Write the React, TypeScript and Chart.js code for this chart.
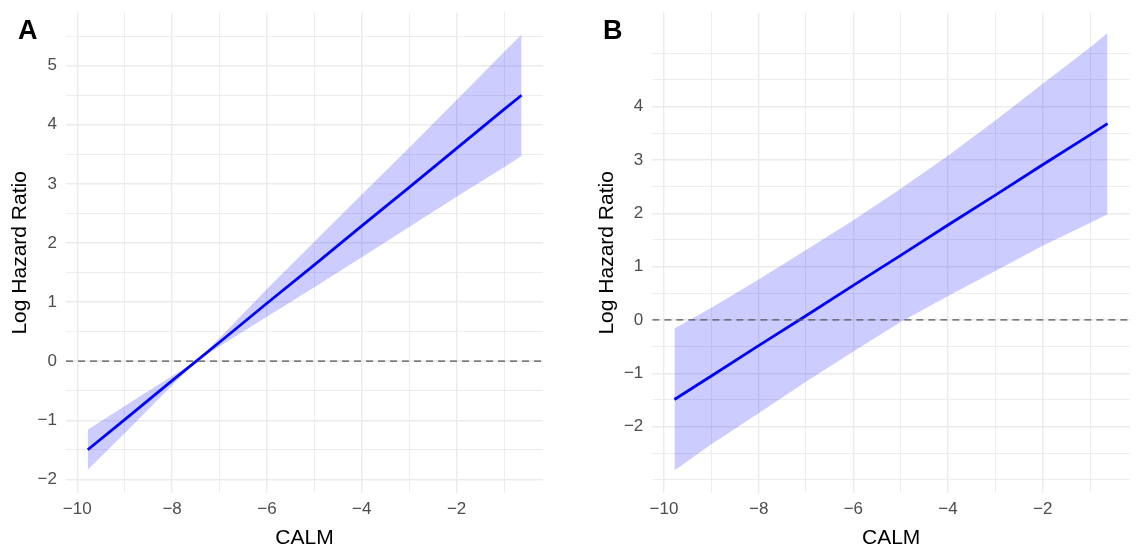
import React, { useEffect, useRef } from "react";
import { Chart, registerables } from "chart.js";

Chart.register(...registerables);

// ---- Panel A data ----
const calmA = [-9.78, -9, -8, -7.49, -7, -6, -5, -4, -3, -2, -1, -0.63];
const fitA = [-1.5, -0.99, -0.33, 0, 0.32, 0.98, 1.63, 2.29, 2.94, 3.6, 4.26, 4.5];
const upperA = [-1.16, -0.76, -0.25, 0, 0.39, 1.22, 2.02, 2.82, 3.61, 4.42, 5.23, 5.53];
const lowerA = [-1.84, -1.22, -0.41, 0, 0.25, 0.75, 1.25, 1.76, 2.27, 2.78, 3.28, 3.47];

// ---- Panel B data ----
const calmB = [-9.78, -9, -8, -7, -6, -5, -4, -3, -2, -1, -0.63];
const fitB = [-1.49, -1.05, -0.48, 0.08, 0.65, 1.21, 1.78, 2.34, 2.91, 3.47, 3.68];
const upperB = [-0.16, 0.23, 0.76, 1.31, 1.87, 2.46, 3.08, 3.74, 4.43, 5.11, 5.38];
const lowerB = [-2.82, -2.33, -1.75, -1.16, -0.59, -0.04, 0.45, 0.92, 1.39, 1.82, 1.98];

// ---- Ticks ----
const xGridTicks = [-10, -9, -8, -7, -6, -5, -4, -3, -2, -1];
const xLabelTicks = [-10, -8, -6, -4, -2];
const yGridA = [-2, -1.5, -1, -0.5, 0, 0.5, 1, 1.5, 2, 2.5, 3, 3.5, 4, 4.5, 5, 5.5];
const yLabelA = [-2, -1, 0, 1, 2, 3, 4, 5];
const yGridB = [-3, -2.5, -2, -1.5, -1, -0.5, 0, 0.5, 1, 1.5, 2, 2.5, 3, 3.5, 4, 4.5, 5];
const yLabelB = [-2, -1, 0, 1, 2, 3, 4];

const FAMILY = "'Liberation Sans', Arial, Helvetica, sans-serif";
const fmt = (v: number) => String(v).replace("-", "\u2212");

type PanelSpec = {
  x: number[];
  fit: number[];
  upper: number[];
  lower: number[];
  yGrid: number[];
  yLabels: number[];
  xMin: number;
  xMax: number;
  yMin: number;
  yMax: number;
  axisWidth: number;
  padRight: number;
  titlePad: number;
};

const panelA: PanelSpec = {
  x: calmA, fit: fitA, upper: upperA, lower: lowerA,
  yGrid: yGridA, yLabels: yLabelA,
  xMin: -10.238, xMax: -0.178, yMin: -2.232, yMax: 5.897,
  axisWidth: 66, padRight: 28, titlePad: 7.9,
};

const panelB: PanelSpec = {
  x: calmB, fit: fitB, upper: upperB, lower: lowerB,
  yGrid: yGridB, yLabels: yLabelB,
  xMin: -10.247, xMax: -0.155, yMin: -3.244, yMax: 5.761,
  axisWidth: 81.3, padRight: 11, titlePad: 23.4,
};

function buildConfig(p: PanelSpec): any {
  const pts = (ys: number[]) => p.x.map((x, i) => ({ x, y: ys[i] }));
  return {
    type: "line",
    data: {
      datasets: [
        {
          label: "zero",
          data: [{ x: p.xMin, y: 0 }, { x: p.xMax, y: 0 }],
          borderColor: "#555555",
          borderWidth: 1.3,
          borderDash: [7, 5],
          pointRadius: 0,
          fill: false,
          order: 0,
        },
        {
          label: "fit",
          data: pts(p.fit),
          borderColor: "#0000FF",
          borderWidth: 2.8,
          pointRadius: 0,
          tension: 0,
          fill: false,
          order: 1,
        },
        {
          label: "upper",
          data: pts(p.upper),
          borderColor: "rgba(0,0,0,0)",
          borderWidth: 0,
          pointRadius: 0,
          backgroundColor: "rgba(0,0,255,0.2)",
          fill: "+1",
          order: 2,
        },
        {
          label: "lower",
          data: pts(p.lower),
          borderColor: "rgba(0,0,0,0)",
          borderWidth: 0,
          pointRadius: 0,
          fill: false,
          order: 3,
        },
      ],
    },
    options: {
      animation: false,
      responsive: false,
      devicePixelRatio: 1,
      layout: { padding: { left: 0, right: p.padRight, top: 12.7, bottom: 0 } },
      plugins: { legend: { display: false }, tooltip: { enabled: false }, title: { display: false } },
      scales: {
        x: {
          type: "linear",
          min: p.xMin,
          max: p.xMax,
          afterBuildTicks: (s: any) => {
            s.ticks = xGridTicks.map((v) => ({ value: v }));
          },
          afterFit: (s: any) => {
            s.height = 63;
            s.paddingLeft = 0;
            s.paddingRight = 0;
          },
          border: { display: false },
          grid: {
            drawTicks: false,
            color: "#EBEBEB",
            lineWidth: (ctx: any) => (ctx.tick && xLabelTicks.includes(ctx.tick.value) ? 1.4 : 0.9),
          },
          ticks: {
            autoSkip: false,
            maxRotation: 0,
            minRotation: 0,
            padding: 6,
            color: "#4D4D4D",
            font: { family: FAMILY, size: 17 },
            callback: (v: number) => (xLabelTicks.includes(v) ? fmt(v) : ""),
          },
          title: {
            display: true,
            text: "CALM",
            color: "#000000",
            font: { family: FAMILY, size: 21 },
            padding: { top: 0, bottom: 4.7 },
          },
        },
        y: {
          type: "linear",
          min: p.yMin,
          max: p.yMax,
          afterBuildTicks: (s: any) => {
            s.ticks = p.yGrid.map((v) => ({ value: v }));
          },
          afterFit: (s: any) => {
            s.width = p.axisWidth;
            s.paddingTop = 0;
            s.paddingBottom = 0;
          },
          border: { display: false },
          grid: {
            drawTicks: false,
            color: "#EBEBEB",
            lineWidth: (ctx: any) => (ctx.tick && p.yLabels.includes(ctx.tick.value) ? 1.4 : 0.9),
          },
          ticks: {
            autoSkip: false,
            padding: 9,
            color: "#4D4D4D",
            font: { family: FAMILY, size: 17 },
            callback: (v: number) => (p.yLabels.includes(v) ? fmt(v) : ""),
          },
          title: {
            display: true,
            text: "Log Hazard Ratio",
            color: "#000000",
            font: { family: FAMILY, size: 21 },
            padding: { top: p.titlePad, bottom: 0 },
          },
        },
      },
    },
  };
}

function Panel({ spec, left, width }: { spec: PanelSpec; left: number; width: number }) {
  const ref = useRef<HTMLCanvasElement>(null);
  useEffect(() => {
    const chart = new Chart(ref.current as HTMLCanvasElement, buildConfig(spec));
    return () => chart.destroy();
  }, [spec]);
  return (
    <canvas
      ref={ref}
      width={width}
      height={556}
      style={{ position: "absolute", left, top: 0, width, height: 556, display: "block" }}
    />
  );
}

const letterStyle: React.CSSProperties = {
  position: "absolute",
  top: 17.1,
  fontFamily: FAMILY,
  fontWeight: 700,
  fontSize: 27,
  lineHeight: "27px",
  color: "#000",
};

export default function App() {
  return (
    <div
      style={{
        position: "fixed",
        left: 0,
        top: 0,
        width: 1141,
        height: 556,
        background: "#ffffff",
        overflow: "hidden",
      }}
    >
      <Panel spec={panelA} left={0} width={571} />
      <Panel spec={panelB} left={571} width={570} />
      <div style={{ ...letterStyle, left: 18 }}>A</div>
      <div style={{ ...letterStyle, left: 603 }}>B</div>
    </div>
  );
}
